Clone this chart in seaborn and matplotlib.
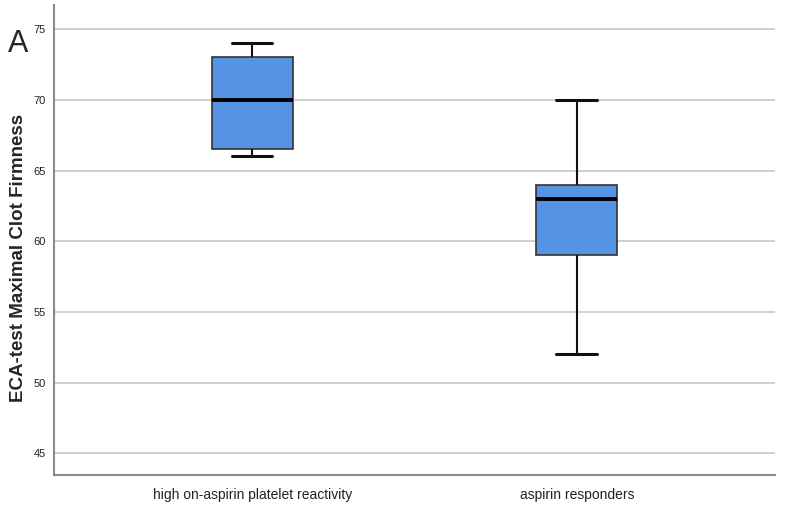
import pandas as pd
import matplotlib.pyplot as plt
import seaborn as sns

# values (min, Q1, median, Q3, max per group)
hapr = [66, 66.5, 70, 73, 74]
responders = [52, 59, 63, 64, 70]
groups = ['high on-aspirin platelet reactivity', 'aspirin responders']
y_ticks = [45, 50, 55, 60, 65, 70, 75]

df = pd.DataFrame({
    'group': [groups[0]] * len(hapr) + [groups[1]] * len(responders),
    'mcf': hapr + responders,
})

sns.set_style('white')
plt.rcParams['font.family'] = ['Liberation Sans', 'DejaVu Sans']

fig = plt.figure(figsize=(7.85, 5.12), dpi=100)
ax = fig.add_axes([0.069, 0.072, 0.918, 0.918])

ax.set_axisbelow(True)
for t in y_ticks:
    ax.axhline(t, color='#c8c8c8', lw=1.2, zorder=0)

sns.boxplot(data=df, x='group', y='mcf', ax=ax, width=0.25, whis=1.5,
            color='#5593e4', saturation=1, linecolor='#333333', linewidth=1.2,
            medianprops=dict(color='black', linewidth=2.8),
            whiskerprops=dict(color='#111111', linewidth=1.5),
            capprops=dict(color='#111111', linewidth=2.2),
            showfliers=False)

ax.set_xlim(-0.61, 1.61)
ax.set_ylim(43.45, 76.7)
ax.set_yticks(y_ticks)
ax.tick_params(axis='y', labelsize=8, length=0, pad=6, labelcolor='#222222')
ax.tick_params(axis='x', labelsize=10, length=0, pad=9, labelcolor='#222222')
ax.set_xlabel('')
ax.set_ylabel('')
fig.text(0.024, 0.496, 'ECA-test Maximal Clot Firmness', fontsize=13.5,
         fontweight='bold', rotation=90, ha='center', va='center')

for s in ['top', 'right']:
    ax.spines[s].set_visible(False)
for s in ['left', 'bottom']:
    ax.spines[s].set_color('#8a8a8a')
    ax.spines[s].set_linewidth(1.5)

fig.text(0.01, 0.898, 'A', fontsize=22, ha='left', va='baseline')

fig.savefig('out.png', dpi=100)
